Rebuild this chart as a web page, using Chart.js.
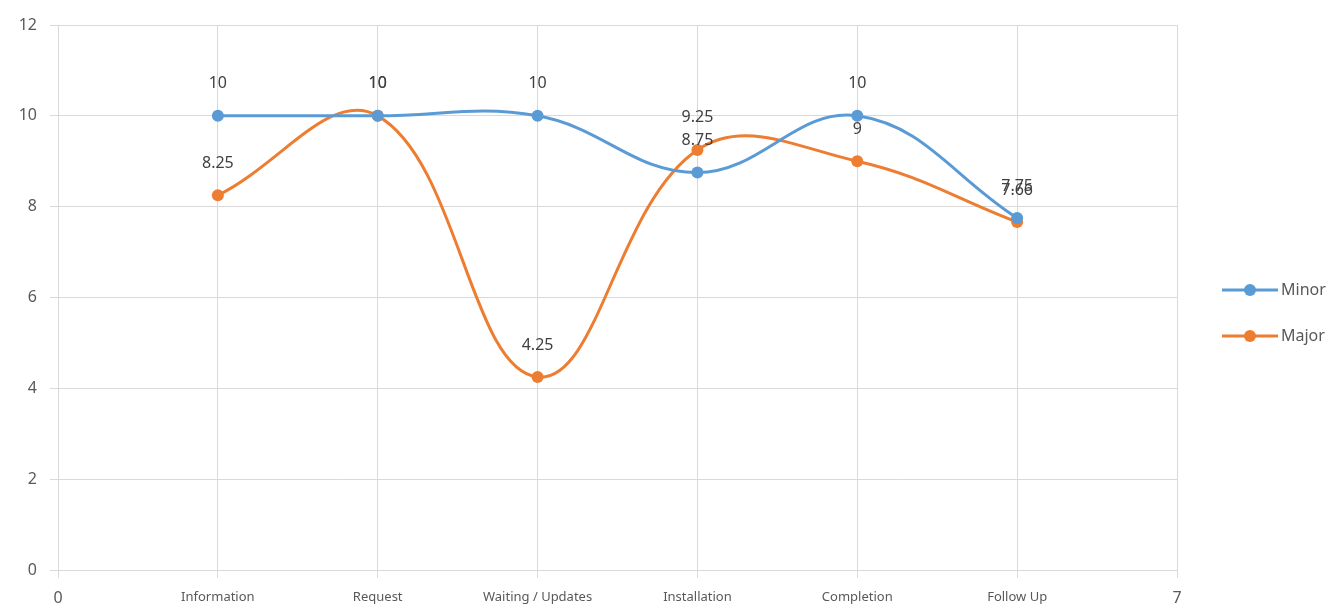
<!DOCTYPE html>
<html>
<head>
<meta charset="utf-8">
<script src="https://cdn.jsdelivr.net/npm/chart.js@4/dist/chart.umd.min.js"></script>
<style>
  html, body { margin: 0; padding: 0; background: #ffffff; }
  #wrap { width: 1343px; height: 608px; }
</style>
</head>
<body>
<div id="wrap"><canvas id="c" width="1343" height="608"></canvas></div>
<script>
// Stages of the service process (placed at x = 1..6)
const stages = ['Information', 'Request', 'Waiting / Updates', 'Installation', 'Completion', 'Follow Up'];
const minorScores = [10, 10, 10, 8.75, 10, 7.75];
const majorScores = [8.25, 10, 4.25, 9.25, 9, 7.66];
const yTicks = [0, 2, 4, 6, 8, 10, 12];

const FONT = '"Noto Sans", "Open Sans", sans-serif';
const GRID = '#d9d9d9';
const TEXT = '#595959';

const toPoints = vals => vals.map((v, i) => ({ x: i + 1, y: v }));

// Value labels above each marker
const valueLabels = {
  id: 'valueLabels',
  afterDatasetsDraw(chart) {
    const ctx = chart.ctx;
    ctx.save();
    ctx.font = '16px ' + FONT;
    ctx.fillStyle = '#404040';
    ctx.textAlign = 'center';
    ctx.textBaseline = 'middle';
    chart.data.datasets.forEach((ds, di) => {
      const meta = chart.getDatasetMeta(di);
      meta.data.forEach((el, i) => {
        ctx.fillText(String(ds.data[i].y), el.x, el.y - 32);
      });
    });
    ctx.restore();
  }
};

// Legend on the right: line segment with marker, then the series name
const sideLegend = {
  id: 'sideLegend',
  afterDraw(chart) {
    const ctx = chart.ctx;
    const x0 = 1222, x1 = 1278, rows = [290, 336];
    ctx.save();
    chart.data.datasets.forEach((ds, i) => {
      const y = rows[i];
      ctx.strokeStyle = ds.borderColor;
      ctx.lineWidth = 3;
      ctx.beginPath();
      ctx.moveTo(x0, y);
      ctx.lineTo(x1, y);
      ctx.stroke();
      ctx.fillStyle = ds.backgroundColor;
      ctx.beginPath();
      ctx.arc((x0 + x1) / 2, y, 6, 0, Math.PI * 2);
      ctx.fill();
      ctx.font = '16px ' + FONT;
      ctx.fillStyle = TEXT;
      ctx.textAlign = 'left';
      ctx.textBaseline = 'middle';
      ctx.fillText(ds.label, x1 + 3, y);
    });
    ctx.restore();
  }
};

const isEnd = v => v === 0 || v === 7;

new Chart(document.getElementById('c'), {
  type: 'line',
  data: {
    datasets: [
      {
        label: 'Minor',
        data: toPoints(minorScores),
        borderColor: '#5B9BD5',
        backgroundColor: '#5B9BD5',
        borderWidth: 3,
        pointRadius: 6,
        pointBorderWidth: 0,
        tension: 0.4
      },
      {
        label: 'Major',
        data: toPoints(majorScores),
        borderColor: '#ED7D31',
        backgroundColor: '#ED7D31',
        borderWidth: 3,
        pointRadius: 6,
        pointBorderWidth: 0,
        tension: 0.4
      }
    ]
  },
  options: {
    responsive: false,
    animation: false,
    layout: { padding: { top: 25, right: 166, left: 0, bottom: 0 } },
    plugins: {
      legend: { display: false },
      tooltip: { enabled: false }
    },
    scales: {
      x: {
        type: 'linear',
        min: 0,
        max: 7,
        afterBuildTicks(scale) {
          scale.ticks = [0, 1, 2, 3, 4, 5, 6, 7].map(v => ({ value: v }));
        },
        afterFit(scale) { scale.height = 38; },
        grid: { color: GRID, lineWidth: 1, tickLength: 8, tickColor: GRID },
        border: { color: GRID, width: 1 },
        ticks: {
          autoSkip: false,
          maxRotation: 0,
          padding: 11,
          color: TEXT,
          font: ctx => ({ family: FONT, size: isEnd(ctx.tick && ctx.tick.value) ? 16 : 13 }),
          callback: v => isEnd(v) ? String(v) : stages[v - 1]
        }
      },
      y: {
        min: 0,
        max: 12,
        afterBuildTicks(scale) {
          scale.ticks = yTicks.map(v => ({ value: v }));
        },
        afterFit(scale) { scale.width = 58; },
        grid: { color: GRID, lineWidth: 1, tickLength: 8, tickColor: GRID },
        border: { color: GRID, width: 1 },
        ticks: {
          padding: 13,
          color: TEXT,
          font: { family: FONT, size: 16 }
        }
      }
    }
  },
  plugins: [valueLabels, sideLegend]
});
</script>
</body>
</html>
